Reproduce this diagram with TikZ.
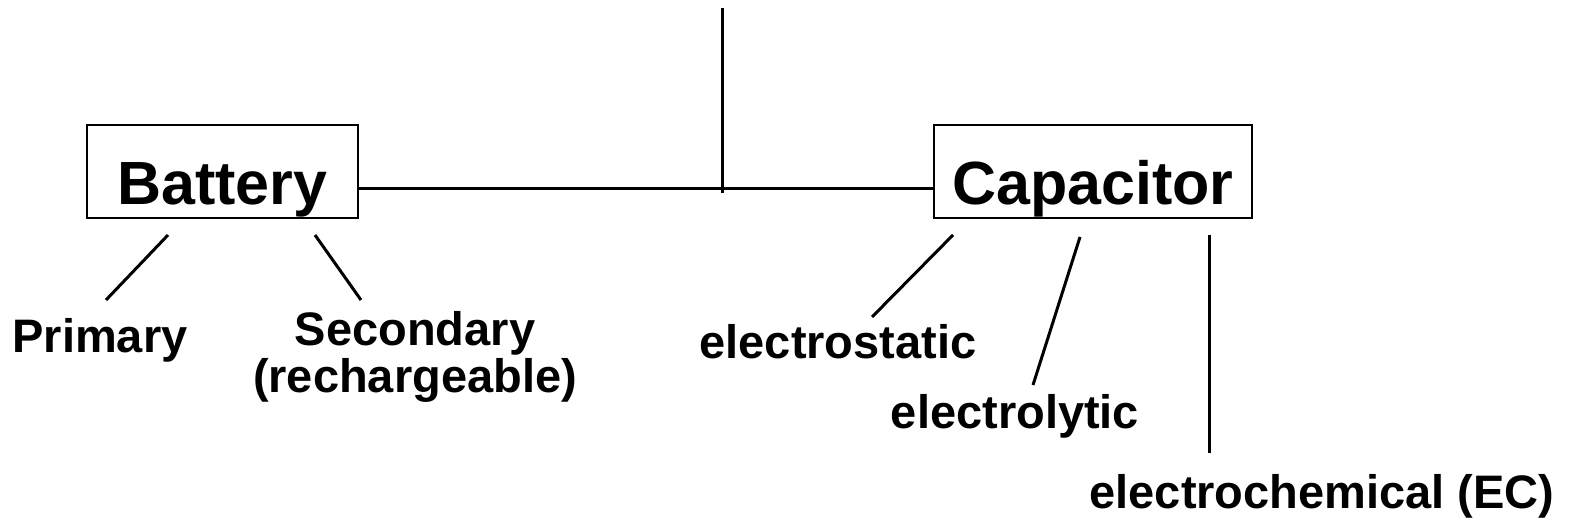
\documentclass[tikz,border=0pt]{standalone}
\usepackage{fontspec}
\setmainfont{Liberation Sans}
\begin{document}
\begin{tikzpicture}[x=1pt,y=-1pt,
  bigbox/.style={draw,line width=2.2pt,minimum width=271pt,minimum height=93pt,inner sep=0pt,text height=79pt,text depth=14pt,font=\fontsize{61}{70}\selectfont\bfseries},
  lbl/.style={font=\fontsize{47}{47}\selectfont\bfseries,inner sep=0pt,anchor=base,align=center},
  conn/.style={line width=3pt}]
\useasboundingbox (0,0) rectangle (1571,524);
\node[bigbox] (bat) at (222.5,171.5) {Battery};
\node[bigbox,minimum width=318pt] (cap) at (1093,171.5) {Capacitor};
\coordinate (top) at (722,8);
\coordinate (mid) at (722,193);
\draw[conn] (bat.east |- 0,188) -- (cap.west |- 0,188);
\draw[conn] (top) -- (mid);
% battery children
\node[lbl] (pri) at (100,352) {Primary};
\node[lbl] (sec) at (415,345) {Secondary};
\node[lbl] (rech) at (415,392) {(rechargeable)};
\coordinate (b1a) at (168,235); \coordinate (b1b) at (106,300);
\coordinate (b2a) at (315,235); \coordinate (b2b) at (361,300);
\draw[conn] (b1a) -- (b1b);
\draw[conn] (b2a) -- (b2b);
% capacitor children
\node[lbl] (est) at (838,358) {electrostatic};
\node[lbl] (ely) at (1015,428) {electrolytic};
\node[lbl] (ech) at (1322,508) {electrochemical (EC)};
\coordinate (c1a) at (953,235); \coordinate (c1b) at (872,317);
\coordinate (c2a) at (1080,237); \coordinate (c2b) at (1033,385);
\coordinate (c3a) at (1209,235); \coordinate (c3b) at (1209,453);
\draw[conn] (c1a) -- (c1b);
\draw[conn] (c2a) -- (c2b);
\draw[conn] (c3a) -- (c3b);
\end{tikzpicture}
\end{document}
